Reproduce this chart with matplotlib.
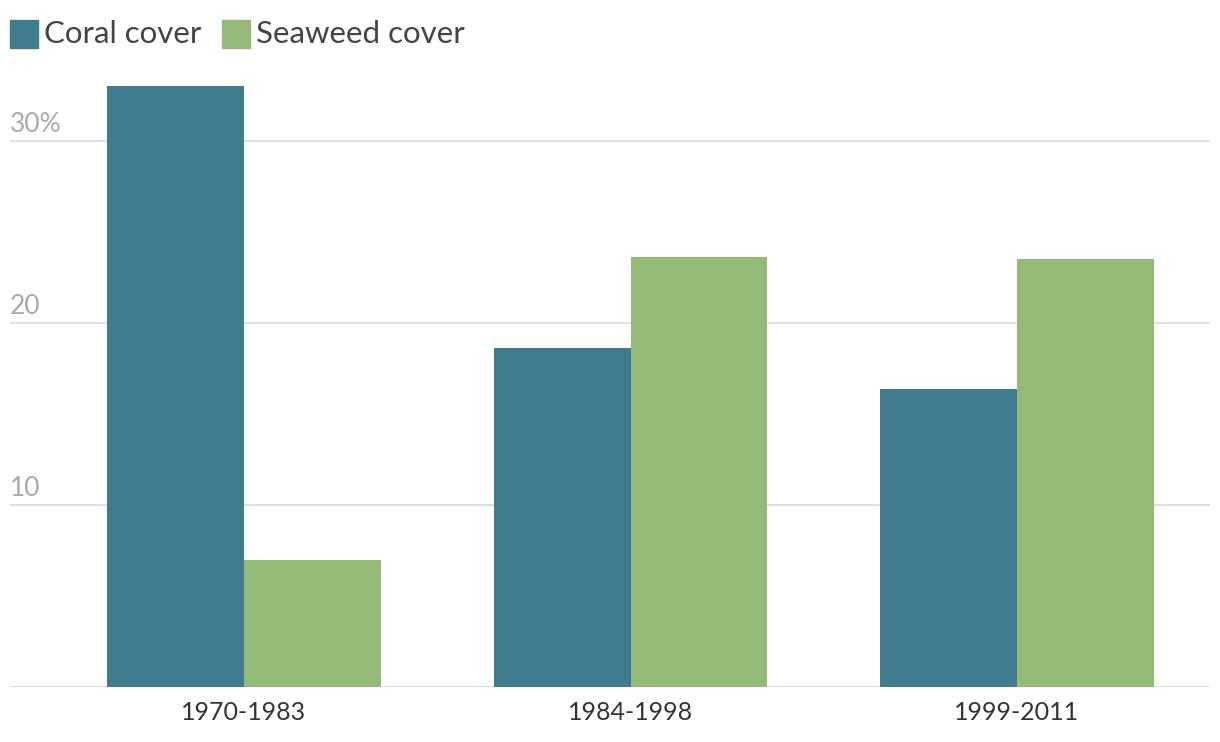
import numpy as np
import matplotlib.pyplot as plt
from matplotlib.patches import Rectangle

periods = ["1970-1983", "1984-1998", "1999-2011"]
coral = [33.0, 18.6, 16.4]
seaweed = [7.0, 23.6, 23.5]
yticks = [10, 20, 30]
ytick_labels = ["10", "20", "30%"]

coral_color = "#3f7d8e"
seaweed_color = "#95b976"

plt.rcParams['font.family'] = ['Lato', 'DejaVu Sans']

fig = plt.figure(figsize=(12.2, 7.42), dpi=100)
ax = fig.add_axes([10 / 1220, 55 / 742, 1200 / 1220, 637 / 742])

x = np.arange(len(periods))
w = 0.354
ax.bar(x - w / 2, coral, w, color=coral_color, zorder=3)
ax.bar(x + w / 2, seaweed, w, color=seaweed_color, zorder=3)

ax.set_xlim(-0.6054, 2.4993)
ax.set_ylim(0, 35)

for s in ax.spines.values():
    s.set_visible(False)
ax.axhline(0, color="#dddddd", lw=2, zorder=2)
for t, lab in zip(yticks, ytick_labels):
    ax.axhline(t, color="#dddddd", lw=1.3, zorder=1)
    ax.text(-0.6054, t + 0.5, lab, color="#aaaaaa", fontsize=19,
            ha="left", va="baseline")

ax.set_yticks([])
ax.set_xticks(x)
ax.set_xticklabels(periods, fontsize=18, color="#333333")
ax.tick_params(axis="x", length=0, pad=10)

# legend
fig.patches.append(Rectangle((10 / 1220, 1 - 48 / 742), 28 / 1220, 28 / 742,
                             transform=fig.transFigure, color=coral_color))
fig.text(44 / 1220, 1 - 34 / 742, "Coral cover", fontsize=22.5, color="#444444",
         va="center", ha="left")
fig.patches.append(Rectangle((222 / 1220, 1 - 48 / 742), 28 / 1220, 28 / 742,
                             transform=fig.transFigure, color=seaweed_color))
fig.text(256 / 1220, 1 - 34 / 742, "Seaweed cover", fontsize=22.5, color="#444444",
         va="center", ha="left")

fig.savefig("out.png", dpi=100)
